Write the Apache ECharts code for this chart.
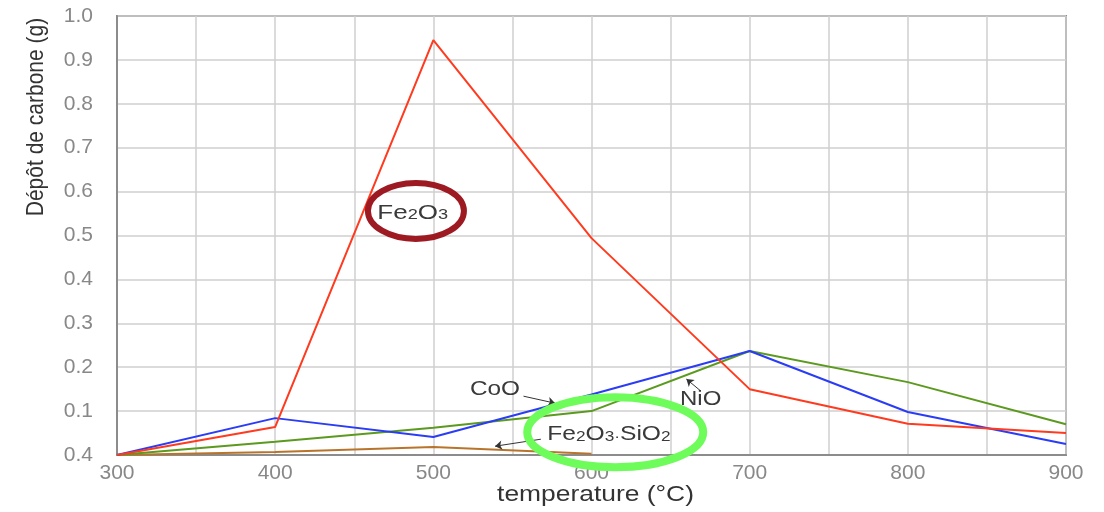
<!DOCTYPE html>
<html>
<head>
<meta charset="utf-8">
<script src="https://cdn.jsdelivr.net/npm/echarts@6/dist/echarts.min.js"></script>
<style>html,body{margin:0;padding:0;background:#fff;overflow:hidden}#c{width:1104px;height:512px}</style>
</head>
<body>
<div id="c"></div>
<script>
// ---- data ----
var temps = [300, 400, 500, 600, 700, 800, 900];
var fe2o3 = [0, 0.064, 0.945, 0.494, 0.15, 0.071, 0.05];
var coo   = [0, 0.084, 0.041, 0.138, 0.237, 0.098, 0.025];
var nio   = [0, 0.03, 0.062, 0.1, 0.237, 0.166, 0.07];
var fesio = [0, 0.007, 0.018, 0.003];
var yTickLabels = ['0.4','0.1','0.2','0.3','0.4','0.5','0.6','0.7','0.8','0.9','1.0'];
var xTickLabels = ['300','400','500','600','700','800','900'];

function pairs(xs, ys){ return ys.map(function(v,i){ return [xs[i], v]; }); }

var chart = echarts.init(document.getElementById('c'));
var H = chart.getHeight();
var arrowLine = { color: '#333', width: 1, type: 'solid' };
function arrow(a, b){ return [{coord: a}, {coord: b}]; }
var lf = 'Liberation Sans, Arial, sans-serif';

chart.setOption({
  animation: false,
  grid: { left: 117, right: 38, top: 16, bottom: H - 455, show: true, borderColor: '#8c8c8c', borderWidth: 2, backgroundColor: 'transparent' },
  xAxis: {
    type: 'value', min: 300, max: 900, interval: 50,
    axisLine: { show: true, lineStyle: { color: '#8c8c8c', width: 2 } },
    axisTick: { show: false },
    axisLabel: { margin: 8, fontFamily: lf, fontSize: 21, color: '#888',
      formatter: function(v){ var i = (v - 300) / 100; return (v % 100 === 0) ? xTickLabels[i] : ''; } },
    splitLine: { show: true, lineStyle: { color: '#cfcfcf', width: 1.5 } }
  },
  yAxis: {
    type: 'value', min: 0, max: 1, interval: 0.1,
    axisLine: { show: true, lineStyle: { color: '#8c8c8c', width: 2 } },
    axisTick: { show: false },
    axisLabel: { margin: 24, fontFamily: lf, fontSize: 21, color: '#888',
      formatter: function(v){ return yTickLabels[Math.round(v * 10)]; } },
    splitLine: { show: true, lineStyle: { color: '#cfcfcf', width: 1.5 } }
  },
  series: [
    { name: 'Fe2O3·SiO2', type: 'line', data: pairs(temps, fesio), symbol: 'none', lineStyle: { color: '#b8742a', width: 2 },
      markLine: { silent: true, symbol: ['none', 'arrow'], symbolSize: 7, label: { show: false }, lineStyle: arrowLine,
        data: [ arrow([568, 0.036], [539, 0.02]) ] } },
    { name: 'NiO', type: 'line', data: pairs(temps, nio), symbol: 'none', lineStyle: { color: '#5b9a1e', width: 2 },
      markLine: { silent: true, symbol: ['none', 'arrow'], symbolSize: 7, label: { show: false }, lineStyle: arrowLine,
        data: [ arrow([669, 0.146], [660, 0.173]) ] } },
    { name: 'CoO', type: 'line', data: pairs(temps, coo), symbol: 'none', lineStyle: { color: '#2a3cf5', width: 2 },
      markLine: { silent: true, symbol: ['none', 'arrow'], symbolSize: 7, label: { show: false }, lineStyle: arrowLine,
        data: [ arrow([557, 0.134], [577, 0.118]) ] } },
    { name: 'Fe2O3', type: 'line', data: pairs(temps, fe2o3), symbol: 'none', lineStyle: { color: '#ff3a1e', width: 2 } }
  ]
});

function px(x, y){ return chart.convertToPixel({ gridIndex: 0 }, [x, y]); }
var rich = {
  a: { fontFamily: lf, fontSize: 20, color: '#3a3a3a' },
  s: { fontFamily: lf, fontSize: 14, color: '#3a3a3a', verticalAlign: 'bottom', padding: [0, 0, 1, 0] }
};
function txt(x, y, t, sx){
  var p = px(x, y);
  return { type: 'text', x: p[0], y: p[1], scaleX: sx, z: 10, style: { text: t, rich: rich, fontFamily: lf, fontSize: 20, fill: '#3a3a3a', align: 'center', verticalAlign: 'middle' } };
}
function ell(x, y, rx, ry, color, lw){
  var p = px(x, y);
  return { type: 'ellipse', z: 20, shape: { cx: p[0], cy: p[1], rx: rx, ry: ry }, style: { fill: 'none', stroke: color, lineWidth: lw } };
}
var g = chart.getModel().getComponent('grid').coordinateSystem.getRect();
chart.setOption({
  graphic: [
    { type: 'text', x: 36, y: 117, rotation: Math.PI / 2, scaleY: 1.17, style: { text: 'Dépôt de carbone (g)', fontFamily: lf, fontSize: 21, fill: '#333', align: 'center', verticalAlign: 'middle' } },
    { type: 'text', x: g.x + g.width / 2 + 4, y: g.y + g.height + 40, scaleX: 1.2, style: { text: 'temperature (°C)', fontFamily: lf, fontSize: 22, fill: '#333', align: 'center', verticalAlign: 'middle' } },
    txt(487, 0.551, '{a|Fe}{s|2}{a|O}{s|3}', 1.3),
    txt(539, 0.15, '{a|CoO}', 1.22),
    txt(669, 0.127, '{a|NiO}', 1.2),
    txt(611, 0.046, '{a|Fe}{s|2}{a|O}{s|3}{s|·}{a|SiO}{s|2}', 1.23),
    ell(489, 0.556, 48, 28, '#9e1a22', 6),
    ell(615, 0.052, 88, 35, '#6dfc5a', 8)
  ]
});
</script>
</body>
</html>
